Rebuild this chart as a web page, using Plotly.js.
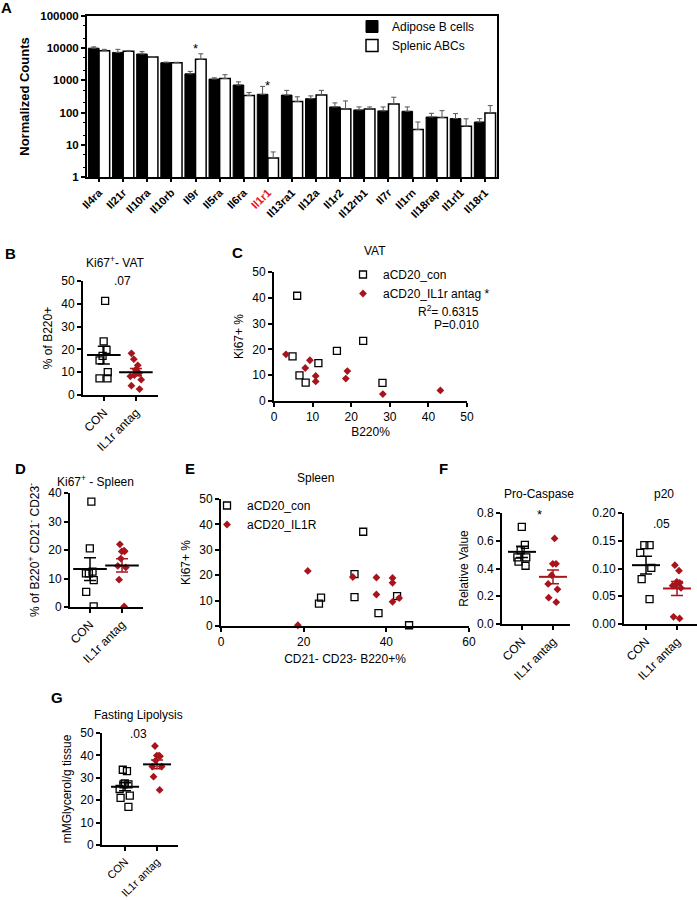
<!DOCTYPE html>
<html><head><meta charset="utf-8">
<script src="https://cdn.plot.ly/plotly-3.0.1.min.js"></script>
<style>body{margin:0;background:#fff}#chart{width:697px;height:900px}</style>
</head><body><div id="chart"></div>
<script>
// ---------- Panel A data ----------
const genes = ['Il4ra','Il21r','Il10ra','Il10rb','Il9r','Il5ra','Il6ra','Il1r1','Il13ra1','Il12a','Il1r2','Il12rb1','Il7r','Il1rn','Il18rap','Il1rl1','Il18r1'];
const adipose    = [10000,7400,6600,3550,1600,1100,720,370,350,270,150,121,113,110,73,65,51];
const adiposeTop = [11000,9200,7800,3700,1900,1200,900,650,490,330,200,150,150,150,95,93,65];
const splenic    = [8400,8000,5300,3550,4500,1150,340,3.9,220,350,130,130,186,30,70,38,98];
const splenicTop = [9200,8300,5500,3650,6700,1500,420,6,310,490,230,150,300,51,115,64,165];
const redGene = 'Il1r1';
const aTickVals = [1,10,100,1000,10000,100000];

// ---------- Group labels ----------
const groups = ['CON','IL1r antag'];

// ---------- Panel B ----------
const bCon = [41.3,23.5,19.8,17.2,15.2,10.0,7.3,7.3];
const bAnt = [18.3,15.7,13.0,11.1,9.6,8.7,8.2,6.7,4.1,2.6];
const bMean = [17.5,10.0];
const bSem  = [3.9,1.6];

// ---------- Panel C ----------
const cConX = [6.0,4.8,6.6,8.2,11.5,16.3,23.1,28.1];
const cConY = [40.8,17.3,9.9,7.1,14.7,19.4,23.3,7.0];
const cAntX = [3.1,9.3,8.1,10.8,10.8,19.0,18.6,28.2,43.1];
const cAntY = [18.1,15.8,12.8,9.7,7.6,11.6,8.7,2.7,4.1];

// ---------- Panel D ----------
const dCon = [37,20.6,12.4,11.8,11.8,9.4,5.3,0.2];
const dAnt = [22,19.8,19.5,19.5,17,14.4,13.9,9.6,0.2];
const dMean = [13.3,14.6];
const dSem  = [4.0,2.3];

// ---------- Panel E ----------
const eConX = [34.4,32.3,32.3,24.2,23.7,42.6,38.1,45.5];
const eConY = [37.1,20.4,11.4,11.2,8.8,11.8,5.1,0.3];
const eAntX = [21,31.9,37.6,41.5,41.5,37.6,43.1,41.5,18.6];
const eAntY = [21.7,19.3,19.1,18.9,17,12.4,11,9.5,0.3];

// ---------- Panel F ----------
const fProCon = [0.70,0.57,0.53,0.48,0.48,0.45,0.42];
const fProAnt = [0.617,0.434,0.434,0.352,0.289,0.25,0.19,0.157];
const fProMean = [0.52,0.34];
const fProSem  = [0.04,0.05];
const fP20Con = [0.142,0.142,0.128,0.101,0.081,0.045];
const fP20Ant = [0.106,0.096,0.076,0.074,0.07,0.069,0.065,0.013,0.010];
const fP20Mean = [0.106,0.064];
const fP20Sem  = [0.016,0.0125];

// ---------- Panel G ----------
const gCon = [33.6,33.0,27.5,27.1,27.1,25,22,21,17];
const gAnt = [44.2,39.9,39.9,39.6,37.7,35,35,30.5,24.6];
const gMean = [26,36];
const gSem  = [1.8,2.0];

// ================= drawing =================
const W=697,H=900;
const FONT='Liberation Sans, Arial, sans-serif';
const RED='#a8141c';
const px=x=>x/W, py=y=>1-y/H;

const traces=[];
// A bars
traces.push({type:'bar',x:genes,y:adipose,name:'Adipose B cells',xaxis:'x',yaxis:'y',legend:'legend',
  marker:{color:'#000',line:{color:'#000',width:1}},
  error_y:{type:'data',symmetric:false,array:adiposeTop.map((t,i)=>t-adipose[i]),arrayminus:adipose.map(()=>0),color:'#555',thickness:1,width:2.5}});
traces.push({type:'bar',x:genes,y:splenic,name:'Splenic ABCs',xaxis:'x',yaxis:'y',legend:'legend',
  marker:{color:'#fff',line:{color:'#000',width:1.5}},
  error_y:{type:'data',symmetric:false,array:splenicTop.map((t,i)=>t-splenic[i]),arrayminus:splenic.map(()=>0),color:'#555',thickness:1,width:2.5}});

const sqMarker={symbol:'square-open',size:7,color:'#000',line:{color:'#000',width:1.3}};
const dmMarker={symbol:'diamond',size:6,color:RED,line:{color:RED,width:0}};

function strip(vals,cat,marker,ax){
  return {type:'box',x:vals.map(()=>cat),y:vals,xaxis:'x'+ax,yaxis:'y'+ax,boxpoints:'all',jitter:0.9,pointpos:0,
    fillcolor:'rgba(0,0,0,0)',line:{width:0,color:'rgba(0,0,0,0)'},whiskerwidth:0,marker:marker,showlegend:false,hoverinfo:'skip'};
}
function meanT(cat,m,s,lc,ec,ax,sz){
  return {type:'scatter',mode:'markers',x:[cat],y:[m],xaxis:'x'+ax,yaxis:'y'+ax,showlegend:false,cliponaxis:false,
    marker:{symbol:'line-ew',size:sz||24,color:lc,line:{color:lc,width:2}},
    error_y:{type:'data',array:[s],color:ec,thickness:1.5,width:6}};
}
function dotPanel(con,ant,mean,sem,ax,antLine,antErr,sz){
  traces.push(strip(con,groups[0],sqMarker,ax));
  traces.push(strip(ant,groups[1],dmMarker,ax));
  traces.push(meanT(groups[0],mean[0],sem[0],'#000','#000',ax,sz));
  traces.push(meanT(groups[1],mean[1],sem[1],antLine,antErr,ax,sz));
}
dotPanel(bCon,bAnt,bMean,bSem,2,'#000',RED);
dotPanel(dCon,dAnt,dMean,dSem,4,'#000',RED);
dotPanel(fProCon,fProAnt,fProMean,fProSem,6,RED,RED,20);
dotPanel(fP20Con,fP20Ant,fP20Mean,fP20Sem,7,RED,RED,20);
dotPanel(gCon,gAnt,gMean,gSem,8,'#000',RED,20);

// C scatter
traces.push({type:'scatter',mode:'markers',x:cConX,y:cConY,name:'aCD20_con',xaxis:'x3',yaxis:'y3',legend:'legend2',marker:sqMarker,cliponaxis:false});
traces.push({type:'scatter',mode:'markers',x:cAntX,y:cAntY,name:'aCD20_IL1r antag *',xaxis:'x3',yaxis:'y3',legend:'legend2',marker:dmMarker,cliponaxis:false});
// E scatter
traces.push({type:'scatter',mode:'markers',x:eConX,y:eConY,name:'aCD20_con',xaxis:'x5',yaxis:'y5',legend:'legend3',marker:sqMarker,cliponaxis:false});
traces.push({type:'scatter',mode:'markers',x:eAntX,y:eAntY,name:'aCD20_IL1R',xaxis:'x5',yaxis:'y5',legend:'legend3',marker:dmMarker,cliponaxis:false});

const base={showline:true,linewidth:2,linecolor:'#000',ticks:'outside',ticklen:4,tickwidth:2,tickcolor:'#000',
  showgrid:false,zeroline:false,automargin:false,fixedrange:true,tickfont:{size:12,color:'#000'}};
function catAxis(d0,d1,r,anchor,extra){
  return Object.assign({},base,{domain:[px(d0),px(d1)],type:'category',categoryorder:'array',categoryarray:groups,
    range:r,anchor:anchor,tickangle:-45},extra||{});
}
function linAxis(d0,d1,r,dtick,anchor,horiz,extra){
  const dom=horiz?[px(d0),px(d1)]:[py(d1),py(d0)];
  return Object.assign({},base,{domain:dom,range:r,dtick:dtick,tick0:0,anchor:anchor},extra||{});
}

const layout={
  width:W,height:H,margin:{l:0,r:0,t:0,b:0},paper_bgcolor:'#fff',plot_bgcolor:'rgba(0,0,0,0)',
  font:{family:FONT,size:12,color:'#000'},
  barmode:'group',bargap:0.12,bargroupgap:0,boxgap:0.3,
  xaxis:Object.assign({},base,{domain:[px(87),px(497)],type:'category',anchor:'y',mirror:true,
    tickvals:genes,ticktext:genes.map(g=>g===redGene?'<span style="color:#e8141c">'+g+'</span>':g),
    tickangle:-45,tickfont:{size:11,weight:'bold',color:'#000'},ticklen:3,range:[-0.5,genes.length-0.5]}),
  yaxis:Object.assign({},base,{domain:[py(177),py(16)],type:'log',range:[0,5],anchor:'x',mirror:true,
    tickvals:aTickVals,ticktext:aTickVals.map(String),tickfont:{size:11.5,weight:'bold',color:'#000'},
    minor:{ticks:'outside',ticklen:2,tickwidth:1,tickcolor:'#000'},
    title:{text:'Normalized Counts',font:{size:13,weight:'bold'},standoff:8}}),
  xaxis2:catAxis(83,158,[-0.65,1.69],'y2'),
  yaxis2:linAxis(281,395,[0,50],10,'x2',false,{title:{text:'% of B220+',font:{size:12},standoff:6}}),
  xaxis3:linAxis(274,467,[0,50],10,'y3',true,{title:{text:'B220%',font:{size:12},standoff:4}}),
  yaxis3:linAxis(272,401,[0,50],10,'x3',false,{title:{text:'Ki67+ %',font:{size:12},standoff:6}}),
  xaxis4:catAxis(70,143,[-0.625,1.656],'y4'),
  yaxis4:linAxis(493,607,[0,40],10,'x4',false,{title:{text:'% of B220<sup>+</sup> CD21<sup>-</sup> CD23<sup>-</sup>',font:{size:12},standoff:6}}),
  xaxis5:linAxis(221,469,[0,60],20,'y5',true,{title:{text:'CD21- CD23- B220+%',font:{size:12},standoff:6}}),
  yaxis5:linAxis(499,626,[0,50],10,'x5',false,{title:{text:'Ki67+ %',font:{size:12},standoff:6}}),
  xaxis6:catAxis(502,570,[-0.645,1.548],'y6'),
  yaxis6:linAxis(513,624,[0,0.8],0.2,'x6',false,{tickformat:'.1f',title:{text:'Relative Value',font:{size:12},standoff:6}}),
  xaxis7:catAxis(624,697,[-0.71,1.645],'y7'),
  yaxis7:linAxis(513,624,[0,0.2],0.05,'x7',false,{tickformat:'.2f'}),
  xaxis8:catAxis(102,178,[-0.72,1.655],'y8',{tickfont:{size:11,color:'#000'}}),
  yaxis8:linAxis(733,845,[0,50],10,'x8',false,{title:{text:'mMGlycerol/g tissue',font:{size:12},standoff:6}}),
  legend:{x:px(352),y:py(12),xanchor:'left',yanchor:'top',bgcolor:'rgba(0,0,0,0)',font:{size:12},itemwidth:30,tracegroupgap:0},
  legend2:{x:px(343),y:py(260),xanchor:'left',yanchor:'top',bgcolor:'rgba(0,0,0,0)',font:{size:12},itemwidth:30,tracegroupgap:0},
  legend3:{x:px(207),y:py(491),xanchor:'left',yanchor:'top',bgcolor:'rgba(0,0,0,0)',font:{size:12},itemwidth:30,tracegroupgap:0},
  annotations:[]
};
function ann(text,x,y,o){
  layout.annotations.push(Object.assign({text:text,x:px(x),y:py(y),xref:'paper',yref:'paper',showarrow:false,
    xanchor:'center',yanchor:'middle',font:{size:12,color:'#000'}},o||{}));
}
// panel letters
[['A',7,8],['B',10,254],['C',237,252],['D',20,468],['E',190,468],['F',443,468],['G',57,697]]
  .forEach(l=>ann(l[0],l[1],l[2],{font:{size:15,weight:'bold',color:'#000'}}));
// titles
ann('Ki67<sup>+</sup>- VAT',115,262);
ann('VAT',375,251);
ann('Ki67<sup>+</sup> - Spleen',95,481);
ann('Spleen',315,478);
ann('Pro-Caspase',539,494);
ann('p20',664,494);
ann('Fasting Lipolysis',138,715);
// stats
ann('.07',122,281);
ann('*',539,514,{font:{size:13}});
ann('.05',661,524);
ann('.03',138,734);
ann('R<sup>2</sup>= 0.6315',481,311,{xanchor:'right'});
ann('P=0.010',481,325,{xanchor:'right'});
// A stars
layout.annotations.push({text:'*',xref:'x',yref:'paper',x:'Il9r',y:py(39),showarrow:false,font:{size:13,color:'#000'}});
layout.annotations.push({text:'*',xref:'x',yref:'paper',x:'Il1r1',y:py(76),showarrow:false,font:{size:13,color:'#000'}});

Plotly.newPlot('chart',traces,layout,{staticPlot:true,displayModeBar:false});
</script></body></html>
